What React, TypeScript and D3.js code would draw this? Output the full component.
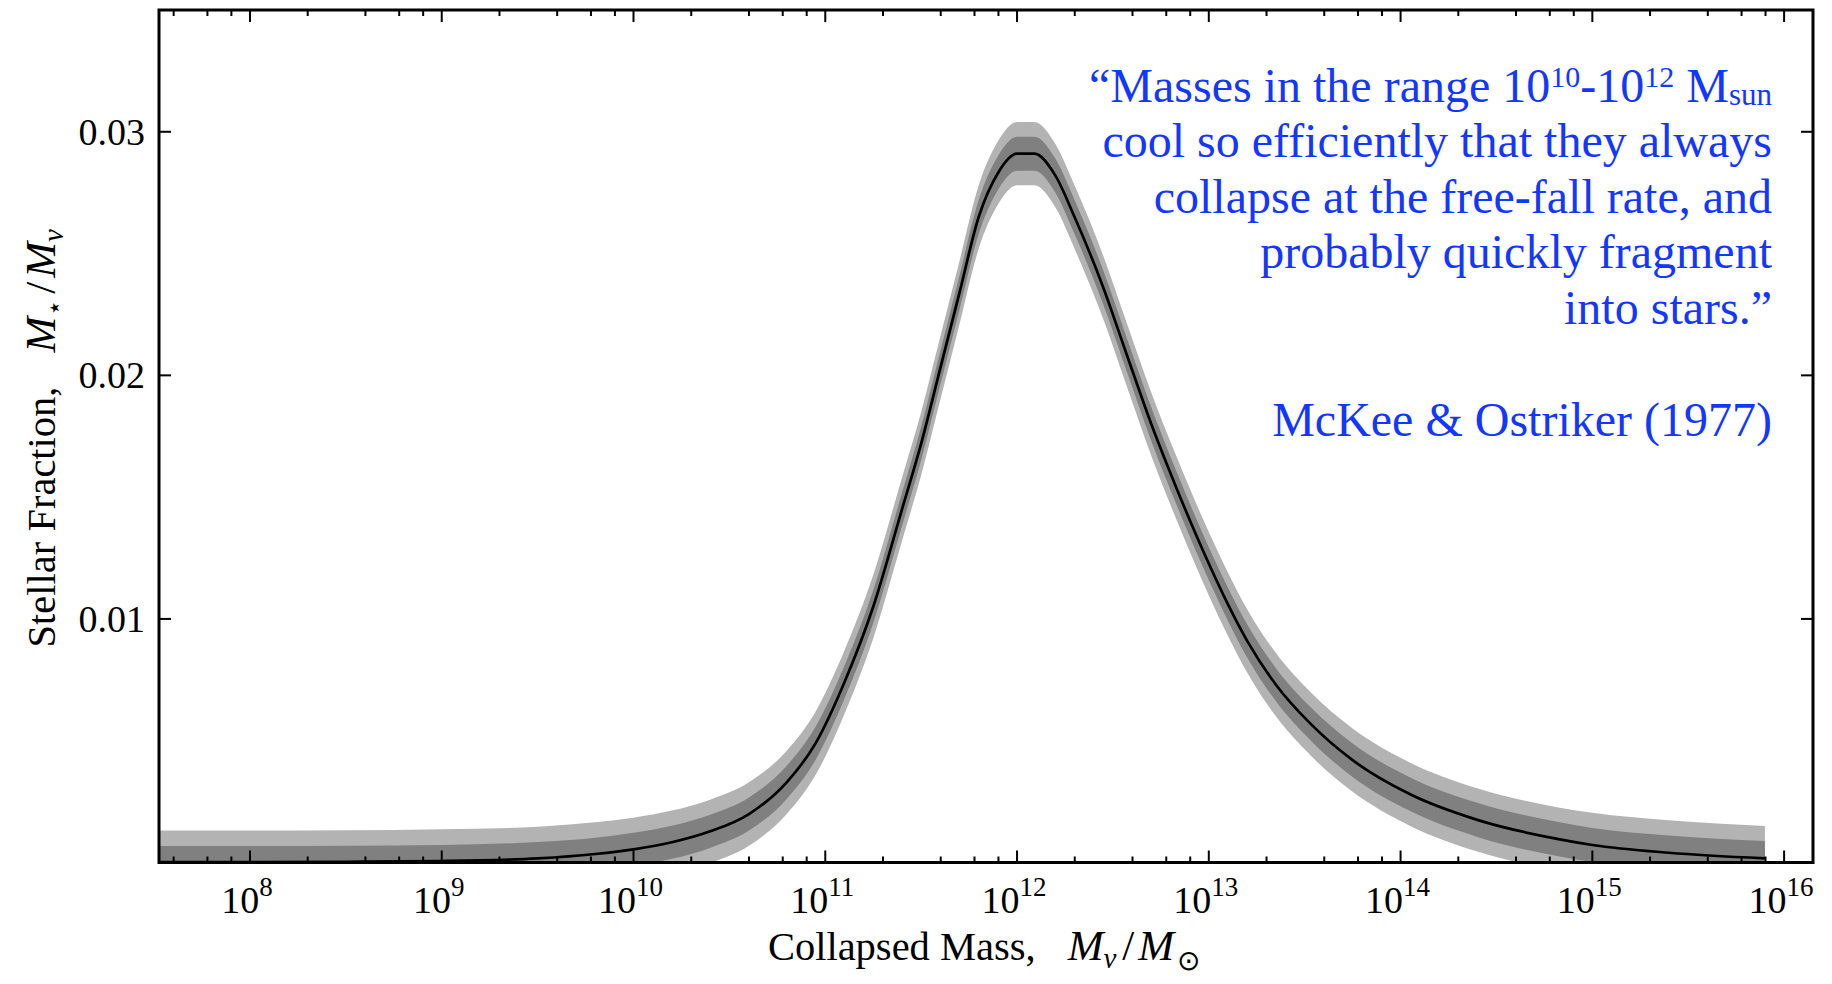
import React from 'react';
import * as d3 from 'd3';

// log10 of collapsed mass (M_v / M_sun)
const logMass = [7.5, 8.0, 8.5, 9.0, 9.5, 9.8, 10.0, 10.2, 10.4, 10.6, 10.8, 10.95, 11.1, 11.25, 11.4, 11.5, 11.6, 11.7, 11.8, 11.9, 12.0, 12.09, 12.2, 12.3, 12.45, 12.57, 12.7, 12.83, 12.97, 13.1, 13.2, 13.35, 13.53, 13.75, 14.05, 14.4, 14.83, 15.0, 15.4, 15.9];
// mean stellar fraction M*/Mv
const stellarFraction = [0.00002, 0.00002, 0.00003, 0.00006, 0.00017, 0.00035, 0.00054, 0.00083, 0.00128, 0.00198, 0.0033, 0.0049, 0.0074, 0.0105, 0.0145, 0.0172, 0.0203, 0.0234, 0.0265, 0.0283, 0.0291, 0.0291, 0.0282, 0.0265, 0.0236, 0.0209, 0.018, 0.0154, 0.0128, 0.0106, 0.0091, 0.0073, 0.0057, 0.0042, 0.0028, 0.00175, 0.00095, 0.00072, 0.0004, 0.00017];
// half-width of inner (dark) band
const innerHalfWidth = [0.00066, 0.00066, 0.00066, 0.00066, 0.00067, 0.00067, 0.00068, 0.00068, 0.00068, 0.00068, 0.00068, 0.00068, 0.00068, 0.00068, 0.00068, 0.00069, 0.00069, 0.0007, 0.0007, 0.0007, 0.0007, 0.0007, 0.0007, 0.0007, 0.0007, 0.00069, 0.00069, 0.00068, 0.00068, 0.00068, 0.00068, 0.00068, 0.00068, 0.00069, 0.00069, 0.0007, 0.0007, 0.0007, 0.00071, 0.00071];
// half-width of outer (light) band
const outerHalfWidth = [0.00129, 0.00129, 0.00129, 0.0013, 0.0013, 0.0013, 0.0013, 0.0013, 0.0013, 0.0013, 0.0013, 0.0013, 0.0013, 0.0013, 0.0013, 0.0013, 0.0013, 0.0013, 0.0013, 0.0013, 0.0013, 0.0013, 0.0013, 0.0013, 0.0013, 0.0013, 0.0013, 0.0013, 0.0013, 0.0013, 0.0013, 0.0013, 0.0013, 0.0013, 0.0013, 0.0013, 0.0013, 0.00132, 0.00133, 0.00133];

const xDecades = [8, 9, 10, 11, 12, 13, 14, 15, 16];
const minorMultipliers = [2, 4, 6, 8];
const yTicks = [0.01, 0.02, 0.03];
const yTickLabels = ['0.01', '0.02', '0.03'];

const quoteLines = [
  'cool so efficiently that they always',
  'collapse at the free-fall rate, and',
  'probably quickly fragment',
  'into stars.\u201D',
];
const citation = 'McKee & Ostriker (1977)';

const W = 1832;
const H = 984;
const left = 159;
const right = 1813;
const top = 10;
const bottom = 862.5;

const SERIF = '"Liberation Serif", "Times New Roman", Times, serif';
const BLUE = 'rgb(20,55,255)';

export default function App() {
  const x = d3.scaleLog().domain([Math.pow(10, 7.5256), Math.pow(10, 16.1507)]).range([left, right]);
  const y = d3.scaleLinear().domain([0, 0.035]).range([bottom, top]);

  const rows = logMass.map((lm, i) => ({
    m: Math.pow(10, lm),
    v: stellarFraction[i],
    s1: innerHalfWidth[i],
    s2: outerHalfWidth[i],
  }));

  const outerArea = d3
    .area<any>()
    .x((d) => x(d.m))
    .y0((d) => y(d.v - d.s2))
    .y1((d) => y(d.v + d.s2))
    .curve(d3.curveMonotoneX);
  const innerArea = d3
    .area<any>()
    .x((d) => x(d.m))
    .y0((d) => y(d.v - d.s1))
    .y1((d) => y(d.v + d.s1))
    .curve(d3.curveMonotoneX);
  const meanLine = d3
    .line<any>()
    .x((d) => x(d.m))
    .y((d) => y(d.v))
    .curve(d3.curveMonotoneX);

  const [d0, d1] = x.domain();
  const minorTicks: number[] = [];
  for (let e = 7; e <= 16; e++) {
    for (const k of minorMultipliers) {
      const v = k * Math.pow(10, e);
      if (v > d0 && v < d1) minorTicks.push(v);
    }
  }

  return (
    <svg
      width={W}
      height={H}
      style={{ position: 'absolute', left: 0, top: 0, display: 'block', background: '#fff' }}
      fontFamily={SERIF}
    >
      <defs>
        <clipPath id="plotClip">
          <rect x={left} y={top} width={right - left} height={bottom - top} />
        </clipPath>
      </defs>
      <rect x={0} y={0} width={W} height={H} fill="#fff" />

      <g clipPath="url(#plotClip)">
        <path d={outerArea(rows) || ''} fill="#b3b3b3" />
        <path d={innerArea(rows) || ''} fill="#808080" />
        <path d={meanLine(rows) || ''} fill="none" stroke="#000" strokeWidth={2.7} strokeLinejoin="round" />
      </g>

      {/* ticks */}
      <g stroke="#000" strokeWidth={2}>
        {xDecades.map((e) => {
          const px = x(Math.pow(10, e));
          return (
            <g key={'M' + e}>
              <line x1={px} x2={px} y1={bottom} y2={bottom - 12} />
              <line x1={px} x2={px} y1={top} y2={top + 12} />
            </g>
          );
        })}
        {minorTicks.map((v, i) => {
          const px = x(v);
          return (
            <g key={'m' + i}>
              <line x1={px} x2={px} y1={bottom} y2={bottom - 6} />
              <line x1={px} x2={px} y1={top} y2={top + 6} />
            </g>
          );
        })}
        {yTicks.map((v) => (
          <g key={'y' + v}>
            <line x1={left} x2={left + 12} y1={y(v)} y2={y(v)} />
            <line x1={right} x2={right - 12} y1={y(v)} y2={y(v)} />
          </g>
        ))}
      </g>

      {/* frame */}
      <rect x={left} y={top} width={right - left} height={bottom - top} fill="none" stroke="#000" strokeWidth={3} />

      {/* x tick labels */}
      {xDecades.map((e) => (
        <text key={'xl' + e} x={x(Math.pow(10, e)) - 3} y={913} textAnchor="middle" fontSize={38} fill="#000">
          10
          <tspan dy={-17} fontSize={27}>
            {String(e)}
          </tspan>
        </text>
      ))}

      {/* y tick labels */}
      {yTicks.map((v, i) => (
        <text key={'yl' + v} x={145} y={y(v) + 13} textAnchor="end" fontSize={38} fill="#000">
          {yTickLabels[i]}
        </text>
      ))}

      {/* x axis label */}
      <text x={(left + right) / 2 - 2} y={960} textAnchor="middle" fontSize={40.5} fill="#000">
        {'Collapsed Mass,'}
        <tspan dx={32} fontStyle="italic" fontSize={43}>M</tspan>
        <tspan dy={8} fontSize={29} fontStyle="italic">v</tspan>
        <tspan dy={-8} dx={6} fontSize={43}>/</tspan>
        <tspan dx={4} fontStyle="italic" fontSize={43}>M</tspan>
        <tspan dy={10} dx={3} fontSize={28}>{'\u2299'}</tspan>
      </text>

      {/* y axis label */}
      <text
        transform={`translate(55,${(top + bottom) / 2 + 2}) rotate(-90)`}
        textAnchor="middle"
        fontSize={40.5}
        fill="#000"
      >
        {'Stellar Fraction,'}
        <tspan dx={34} fontStyle="italic" fontSize={43}>M</tspan>
        <tspan dy={8} dx={1} fontSize={26}>{'\u22C6'}</tspan>
        <tspan dy={-8} dx={6} fontSize={43}>/</tspan>
        <tspan dx={4} fontStyle="italic" fontSize={43}>M</tspan>
        <tspan dy={8} fontSize={29} fontStyle="italic">v</tspan>
      </text>

      {/* quote */}
      <g fill={BLUE} fontSize={48} textAnchor="end">
        <text x={1772} y={102}>
          {'\u201CMasses in the range 10'}
          <tspan dy={-15} fontSize={30}>10</tspan>
          <tspan dy={15}>-10</tspan>
          <tspan dy={-15} fontSize={30}>12</tspan>
          <tspan dy={15}>{' M'}</tspan>
          <tspan dy={3} fontSize={31}>sun</tspan>
        </text>
        {quoteLines.map((t, i) => (
          <text key={'q' + i} x={1772} y={157 + i * 55.5}>
            {t}
          </text>
        ))}
        <text x={1772} y={436}>
          {citation}
        </text>
      </g>
    </svg>
  );
}
